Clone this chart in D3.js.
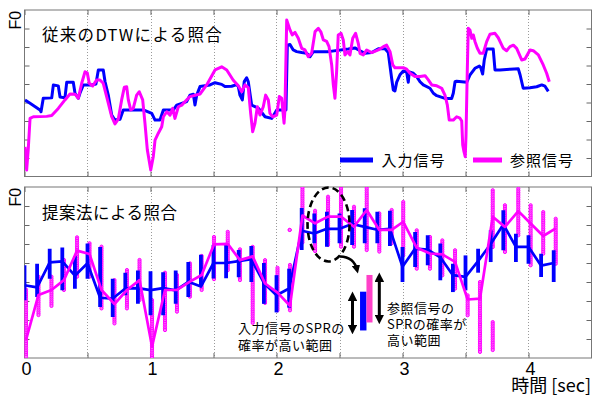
<!DOCTYPE html>
<html>
<head>
<meta charset="utf-8">
<script src="https://cdn.jsdelivr.net/npm/d3@7"></script>
<style>
  body { margin: 0; background: #fff; }
  svg { display: block; }
</style>
</head>
<body>
<svg id="chart" width="592" height="397"></svg>
<script>
// ---------- F0 contours aligned by conventional DTW (time in sec, F0 in tick units) ----------
const dtwInputTime = [0.004,0.044,0.123,0.131,0.149,0.216,0.229,0.268,0.282,0.321,
  0.335,0.387,0.401,0.427,0.44,0.467,0.533,0.567,0.586,0.625,
  0.639,0.665,0.692,0.718,0.758,0.784,0.943,1.01,1.036,1.075,
  1.102,1.181,1.208,1.287,1.313,1.34,1.353,1.367,1.393,1.472,
  1.512,1.565,1.591,1.644,1.684,1.697,1.71,1.729,1.744,1.763,
  1.776,1.803,1.856,1.909,1.962,2.002,2.075,2.086,2.107,2.133,
  2.16,2.2,2.24,2.266,2.292,2.411,2.57,2.623,2.663,2.702,
  2.756,2.808,2.861,2.887,2.914,2.927,2.94,2.954,2.98,3.006,
  3.033,3.046,3.054,3.086,3.113,3.139,3.165,3.218,3.245,3.272,
  3.337,3.39,3.403,3.417,3.43,3.51,3.536,3.575,3.61,3.62,
  3.636,3.649,3.668,3.72,3.734,3.774,3.853,3.919,3.933,3.958,
  4.012,4.065,4.105,4.131,4.157];
const dtwInputF0 = [4.14,3.96,3.6,3.5,4.23,4.25,4.95,4.9,4.3,4.25,
  5.09,5.09,4.5,4.23,4.5,4.95,4.95,5.0,5.76,5.76,
  5.13,4.4,3.32,3.05,3.1,3.6,3.6,3.41,3.05,3.05,
  3.6,3.6,3.86,4.05,4.4,4.45,3.86,4.4,4.86,4.95,
  5.07,4.98,4.86,4.88,4.97,4.86,4.4,4.14,5.13,5.34,
  5.13,3.86,3.69,3.23,3.14,3.6,3.6,7.1,7.14,6.84,
  6.75,6.7,6.66,6.48,6.75,6.75,6.89,6.95,6.8,6.66,
  6.7,6.9,6.9,6.7,5.3,4.68,4.62,5.1,5.5,5.7,
  5.65,5.1,5.65,5.58,5.4,5.12,4.95,4.77,4.5,4.37,
  4.22,4.22,4.5,5.12,5.15,5.1,5.49,5.85,5.97,5.9,
  5.54,6.3,6.89,6.89,5.76,5.76,5.8,5.82,5.5,4.77,
  4.8,4.85,4.95,4.88,4.6];

const dtwRefTime = [0.004,0.017,0.03,0.044,0.07,0.176,0.216,0.268,0.321,0.361,
  0.401,0.427,0.454,0.48,0.498,0.514,0.541,0.573,0.599,0.625,
  0.652,0.692,0.718,0.744,0.771,0.792,0.811,0.824,0.843,0.863,
  0.89,0.911,0.938,0.956,0.975,1.002,1.022,1.036,1.062,1.089,
  1.102,1.129,1.155,1.176,1.194,1.221,1.248,1.313,1.393,1.446,
  1.512,1.565,1.605,1.657,1.697,1.724,1.75,1.776,1.795,1.811,
  1.829,1.848,1.869,1.895,1.914,1.935,1.948,1.97,2.002,2.022,
  2.041,2.06,2.067,2.081,2.107,2.125,2.147,2.173,2.2,2.226,
  2.252,2.279,2.306,2.332,2.353,2.372,2.398,2.417,2.438,2.451,
  2.464,2.477,2.49,2.512,2.53,2.543,2.565,2.583,2.605,2.628,
  2.649,2.663,2.689,2.716,2.756,2.808,2.848,2.874,2.901,2.923,
  2.94,3.006,3.033,3.06,3.099,3.139,3.179,3.205,3.232,3.272,
  3.311,3.337,3.356,3.371,3.403,3.43,3.456,3.47,3.478,3.488,
  3.498,3.504,3.514,3.522,3.536,3.55,3.562,3.575,3.594,3.615,
  3.641,3.668,3.694,3.734,3.76,3.8,3.826,3.853,3.88,3.906,
  3.946,3.972,4.012,4.038,4.078,4.117,4.144,4.165];
const dtwRefF0 = [1.6,0.35,1.5,3.14,3.23,3.25,3.3,3.68,4.14,4.46,
  4.45,4.23,5.04,5.66,5.6,5.04,4.89,5.22,5.22,5.04,
  4.32,3.23,2.84,3.1,4.14,4.82,4.85,4.14,3.6,3.68,
  4.4,4.58,4.14,2.88,1.43,0.35,1.07,1.97,2.34,2.69,
  3.23,3.5,3.32,3.68,3.14,3.77,3.86,4.32,4.46,4.95,
  5.76,5.93,5.76,5.2,4.9,4.58,4.95,4.8,3.41,2.42,
  2.87,3.77,3.32,3.77,4.4,4.14,3.41,3.23,3.32,4.32,
  4.23,2.88,3.6,8.46,7.92,7.65,7.79,7.47,6.93,6.84,
  6.48,6.66,7.83,8.01,7.8,7.38,7.3,7.02,6.03,4.95,
  4.23,5.66,7.65,7.74,7.38,6.57,6.75,6.57,7.47,7.74,
  7.2,6.66,6.57,6.84,6.7,6.84,7.02,7.1,6.75,6.03,
  5.88,5.88,5.8,5.58,5.4,5.4,5.45,5.22,4.95,4.9,
  4.77,4.4,3.86,3.05,3.05,3.23,3.15,3.0,1.7,1.34,
  1.07,2.2,5.66,8.01,7.9,7.47,7.65,7.3,6.93,6.66,
  6.66,7.29,7.69,7.74,7.5,6.93,6.8,7.02,7.1,6.93,
  6.3,6.35,6.84,6.8,6.57,6.03,5.58,5.12];

// ---------- proposed method: per-frame F0 with high-probability SPR range ----------
const inputFrameTime = [0,0.1,0.2,0.3,0.4,0.5,0.6,0.7,0.8,0.9,
  1.0,1.1,1.2,1.3,1.4,1.5,1.6,1.7,1.8,1.9,
  2.0,2.1,2.2,2.3,2.4,2.5,2.6,2.7,2.8,2.9,
  3.0,3.1,3.2,3.3,3.4,3.5,3.6,3.7,3.8,3.9,
  4.0,4.1,4.2];
const inputFrameF0 = [3.83,3.72,5.03,5.09,4.33,4.99,3.17,3.13,3.66,3.68,
  3.57,3.68,3.56,4.01,3.76,5.0,5.0,5.1,5.2,3.95,
  3.3,3.66,6.7,6.55,6.8,6.8,7.05,6.9,6.75,6.8,
  4.8,5.76,5.7,5.3,4.36,4.27,5.1,6.0,7.03,5.85,
  5.85,4.86,5.0];
const inputSprLow = [3.04,3.21,4.17,3.56,3.65,4.17,2.68,2.16,3.3,2.86,
  2.25,2.25,2.86,3.21,3.83,4.19,4.2,4.25,4.0,2.85,
  2.4,2.65,5.68,6.04,5.86,6.04,5.95,6.04,6.04,5.9,
  4.0,4.79,4.88,4.09,3.47,3.56,4.49,5.05,5.67,5.05,
  4.96,4.26,4.0];
const inputSprHigh = [4.88,4.96,5.75,5.81,5.37,6.02,5.84,4.17,4.49,4.61,
  4.56,4.51,4.61,5.05,5.44,5.95,6.0,5.68,5.9,5.0,
  4.36,4.7,7.9,7.61,7.7,7.61,7.79,7.88,7.7,7.75,
  5.84,6.63,6.46,6.02,4.96,5.4,5.75,6.72,7.77,6.54,
  6.46,5.49,5.67];

const refFrameTime = [0.012,0.111,0.214,0.313,0.417,0.516,0.611,0.714,0.813,0.913,
  1.012,1.115,1.21,1.313,1.406,1.504,1.613,1.71,1.811,1.909,
  2.008,2.107,2.206,2.306,2.409,2.512,2.615,2.716,2.816,2.914,
  3.006,3.113,3.218,3.316,3.417,3.517,3.615,3.716,3.813,3.919,
  4.017,4.117,4.216];
const refFrameF0 = [0.95,3.32,3.58,4.1,5.65,5.47,3.58,2.84,3.58,4.1,
  0.6,3.58,3.58,4.02,4.37,5.98,6.01,5.15,5.35,3.92,
  3.44,2.75,7.5,7.09,7.44,7.44,6.91,7.79,6.74,6.74,
  7.17,5.8,5.5,5.45,5.06,3.08,3.13,7.43,6.9,7.73,
  7.08,6.42,6.82];
const refSprLow = [0.07,2.26,2.74,3.58,4.28,4.28,2.61,1.82,2.61,3.05,
  0,1.47,2.44,3.23,3.58,4.15,4.62,4.1,1.85,2.9,
  2.51,2.51,6.08,5.63,5.95,5.86,5.86,5.68,5.6,6.04,
  5.4,4.7,4.7,4.35,3.65,2.25,0.32,5.84,5.58,6.46,
  4.88,5.49,4.96];
const refSprHigh = [3.6,4.28,4.28,5.16,6.35,6.04,5.86,4.1,4.63,5.16,
  3.05,4.49,4.37,4.98,5.37,6.37,6.64,5.72,5.85,5.15,
  4.75,4.9,8.95,7.75,8.49,9.0,7.96,9.0,7.61,7.79,
  8.21,6.72,6.37,6.19,5.67,3.3,4.0,8.83,8.04,8.91,
  8.04,7.68,7.33];
// isolated low-probability candidates of the reference
const refStrayTime = [2.105, 3.716];
const refStrayLow  = [6.74, 0.42];
const refStrayHigh = [6.74, 1.89];

// ---------- axis ticks ----------
const timeTicks = [0,0.5,1,1.5,2,2.5,3,3.5,4,4.5];
const timeLabels = ["0","","1","","2","","3","","4",""];
const f0Ticks = [1,2,3,4,5,6,7,8];

// ---------- layout ----------
const BLUE = "#0000ff", MAG = "#ff00ff";
const svg = d3.select("#chart");
const x = d3.scaleLinear().domain([0, 4.5]).range([24.5, 591.5]);
const yTop = d3.scaleLinear().domain([0, 9]).range([176.5, 10]);
const yBot = d3.scaleLinear().domain([0, 9]).range([358, 187]);
const jp = "'Noto Sans CJK JP', 'Noto Sans', sans-serif";
const latin = "'Liberation Sans', Arial, sans-serif";

function frame(y, showLabels) {
  const g = svg.append("g");
  const [y0, y1] = y.range();
  // dotted vertical grid
  g.selectAll("line.grid").data(timeTicks.slice(1, -1)).join("line")
    .attr("x1", d => Math.round(x(d)) + 0.5).attr("x2", d => Math.round(x(d)) + 0.5)
    .attr("y1", y1).attr("y2", y0)
    .attr("stroke", "#9a9a9a").attr("stroke-width", 1).attr("stroke-dasharray", "1,2");
  const tickFmt = d => showLabels ? timeLabels[timeTicks.indexOf(d)] : "";
  const axB = g.append("g").attr("transform", `translate(0,${y0})`)
    .call(d3.axisBottom(x).tickValues(timeTicks).tickSizeInner(-5).tickSizeOuter(0)
      .tickPadding(4).tickFormat(tickFmt));
  const axT = g.append("g").attr("transform", `translate(0,${y1})`)
    .call(d3.axisTop(x).tickValues(timeTicks).tickSizeInner(-5).tickSizeOuter(0).tickFormat(""));
  const axL = g.append("g").attr("transform", `translate(${x.range()[0]},0)`)
    .call(d3.axisLeft(y).tickValues(f0Ticks).tickSizeInner(-5).tickSizeOuter(0).tickFormat(""));
  const axR = g.append("g").attr("transform", `translate(${x.range()[1]},0)`)
    .call(d3.axisRight(y).tickValues(f0Ticks).tickSizeInner(-5).tickSizeOuter(0).tickFormat(""));
  [axB, axT, axL, axR].forEach(a => {
    a.select(".domain").remove();
    a.selectAll("line").attr("stroke", "#666");
  });
  axB.selectAll("text").attr("font-family", latin).attr("font-size", 18).attr("fill", "#000")
    .attr("dx", 1.5);
  // box
  g.append("rect").attr("x", x.range()[0]).attr("y", y1)
    .attr("width", x.range()[1] - x.range()[0]).attr("height", y0 - y1)
    .attr("fill", "none").attr("stroke", "#777").attr("stroke-width", 1);
  // F0 label
  g.append("text").attr("transform", `translate(20.8,${y1 + 19.5}) rotate(-90)`)
    .attr("font-family", latin).attr("font-size", 16).attr("fill", "#000").text("F0");
  return g;
}

// ===== top panel =====
frame(yTop, false);
const lineTop = d3.line().x(d => x(d[0])).y(d => yTop(d[1]));
svg.append("clipPath").attr("id", "clipTop").append("rect")
  .attr("x", x.range()[0]).attr("y", yTop.range()[1])
  .attr("width", x.range()[1] - x.range()[0]).attr("height", yTop.range()[0] - yTop.range()[1]);
const gTop = svg.append("g").attr("clip-path", "url(#clipTop)");
gTop.append("path").datum(d3.zip(dtwInputTime, dtwInputF0)).attr("d", lineTop)
  .attr("fill", "none").attr("stroke", BLUE).attr("stroke-width", 3).attr("stroke-linejoin", "round");
gTop.append("path").datum(d3.zip(dtwRefTime, dtwRefF0)).attr("d", lineTop)
  .attr("fill", "none").attr("stroke", MAG).attr("stroke-width", 3).attr("stroke-linejoin", "round");

svg.append("text").attr("x", 42).attr("y", 41).attr("font-family", jp).attr("font-size", 16.5)
  .attr("letter-spacing", 1.3).attr("fill", "#000").text("従来のDTWによる照合");

// legend
const legend = [
  { label: "入力信号", color: BLUE, x0: 340, x1: 373, tx: 381.5 },
  { label: "参照信号", color: MAG, x0: 473, x1: 502, tx: 510 }
];
const lg = svg.append("g");
lg.selectAll("line").data(legend).join("line")
  .attr("x1", d => d.x0).attr("x2", d => d.x1).attr("y1", 160).attr("y2", 160)
  .attr("stroke", d => d.color).attr("stroke-width", 5);
lg.selectAll("text").data(legend).join("text")
  .attr("x", d => d.tx).attr("y", 165.5).attr("font-family", jp).attr("font-size", 15)
  .attr("letter-spacing", 1).attr("fill", "#000").text(d => d.label);

// ===== bottom panel =====
frame(yBot, true);
svg.append("clipPath").attr("id", "clipBot").append("rect")
  .attr("x", x.range()[0]).attr("y", yBot.range()[1])
  .attr("width", x.range()[1] - x.range()[0]).attr("height", yBot.range()[0] - yBot.range()[1]);
const gBot = svg.append("g").attr("clip-path", "url(#clipBot)");

// reference SPR ranges drawn as stacks of small circles
function dotColumn(g, t, lo, hi) {
  const px = x(t), pTop = yBot(hi), pBot = yBot(lo);
  const n = Math.max(1, Math.round((pBot - pTop) / 1.8));
  const pts = d3.range(n + 1).map(i => pTop + (pBot - pTop) * i / n);
  g.selectAll(null).data(pts).join("circle")
    .attr("cx", px).attr("cy", d => d).attr("r", 1.6)
    .attr("fill", "#ff70ff").attr("stroke", MAG).attr("stroke-width", 1);
}
const gRefBars = gBot.append("g");
refFrameTime.forEach((t, i) => dotColumn(gRefBars, t, refSprLow[i], refSprHigh[i]));
refStrayTime.forEach((t, i) => dotColumn(gRefBars, t, refStrayLow[i], refStrayHigh[i]));

// input SPR ranges
gBot.append("g").selectAll("line").data(d3.range(inputFrameTime.length)).join("line")
  .attr("x1", i => x(inputFrameTime[i])).attr("x2", i => x(inputFrameTime[i]))
  .attr("y1", i => yBot(inputSprLow[i])).attr("y2", i => yBot(inputSprHigh[i]))
  .attr("stroke", BLUE).attr("stroke-width", 3.8);

const lineBot = d3.line().x(d => x(d[0])).y(d => yBot(d[1]));
gBot.append("path").datum(d3.zip(inputFrameTime, inputFrameF0)).attr("d", lineBot)
  .attr("fill", "none").attr("stroke", BLUE).attr("stroke-width", 2.7).attr("stroke-linejoin", "round");
gBot.append("path").datum(d3.zip(refFrameTime, refFrameF0)).attr("d", lineBot)
  .attr("fill", "none").attr("stroke", MAG).attr("stroke-width", 2.7).attr("stroke-linejoin", "round");

svg.append("text").attr("x", 42).attr("y", 219).attr("font-family", jp).attr("font-size", 16.5)
  .attr("letter-spacing", 0.5).attr("fill", "#000").text("提案法による照合");

// x-axis title
svg.append("text").attr("x", 591).attr("y", 392).attr("text-anchor", "end")
  .attr("font-family", jp).attr("font-size", 18).attr("fill", "#000").text("時間 [sec]");

// ---------- annotation: highlighted frames and range explanation ----------
const ann = svg.append("g");
ann.append("ellipse").attr("cx", x(2.413)).attr("cy", yBot(7.03)).attr("rx", 21).attr("ry", 37)
  .attr("fill", "none").attr("stroke", "#000").attr("stroke-width", 2.6).attr("stroke-dasharray", "7,4");

const defs = svg.append("defs");
defs.append("marker").attr("id", "head").attr("viewBox", "0 0 10 10").attr("refX", 6).attr("refY", 5)
  .attr("markerWidth", 3.2).attr("markerHeight", 3.2).attr("orient", "auto-start-reverse")
  .append("path").attr("d", "M0,0 L10,5 L0,10 Z").attr("fill", "#000");

ann.append("path")
  .attr("d", `M${x(2.504)},${yBot(5.34)} Q${x(2.615)},${yBot(5.32)} ${x(2.64)},${yBot(4.62)}`)
  .attr("fill", "none").attr("stroke", "#000").attr("stroke-width", 2.6).attr("marker-end", "url(#head)");

ann.append("rect").attr("x", x(2.663)).attr("y", yBot(3.49))
  .attr("width", x(2.714) - x(2.663)).attr("height", yBot(1.45) - yBot(3.49)).attr("fill", BLUE);
ann.append("rect").attr("x", x(2.714)).attr("y", yBot(4.37))
  .attr("width", x(2.762) - x(2.714)).attr("height", yBot(1.87) - yBot(4.37)).attr("fill", "#ff40c8");

[[2.603, 1.45, 3.3], [2.816, 1.98, 4.3]].forEach(([t, lo, hi]) => {
  ann.append("line").attr("x1", x(t)).attr("x2", x(t)).attr("y1", yBot(lo)).attr("y2", yBot(hi))
    .attr("stroke", "#000").attr("stroke-width", 3)
    .attr("marker-start", "url(#head)").attr("marker-end", "url(#head)");
});

const annText = [
  { x: 238, y: 333, s: "入力信号のSPRの" },
  { x: 238, y: 350, s: "確率が高い範囲" },
  { x: 387, y: 312.5, s: "参照信号の" },
  { x: 387, y: 328.5, s: "SPRの確率が" },
  { x: 387, y: 345, s: "高い範囲" }
];
ann.selectAll("text").data(annText).join("text")
  .attr("x", d => d.x).attr("y", d => d.y).attr("font-family", jp).attr("font-size", 13)
  .attr("letter-spacing", 0.5).attr("fill", "#000").text(d => d.s);
</script>
</body>
</html>
